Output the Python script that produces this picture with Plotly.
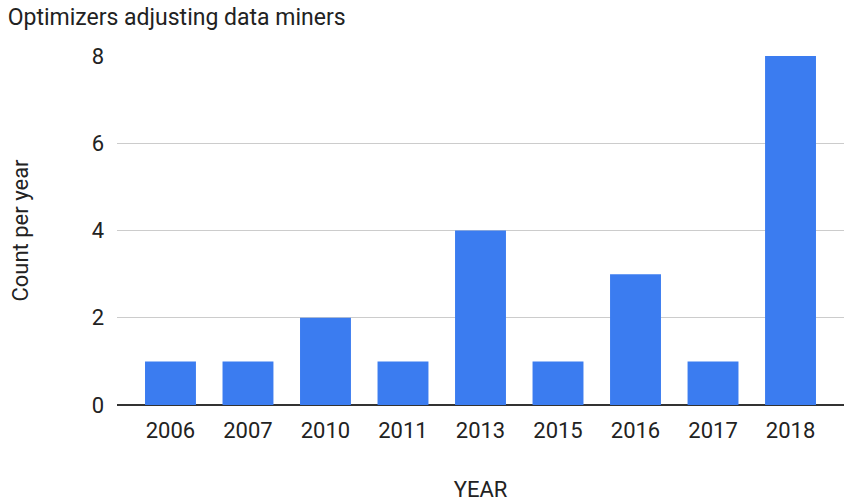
import plotly.graph_objects as go

years = ["2006", "2007", "2010", "2011", "2013", "2015", "2016", "2017", "2018"]
counts = [1, 1, 2, 1, 4, 1, 3, 1, 8]
y_ticks = [0, 2, 4, 6, 8]

fig = go.Figure(go.Bar(x=years, y=counts, marker_color="#3b7cf0", marker_line_width=0))
fig.update_layout(
    width=852, height=502,
    margin=dict(l=117, r=8, t=56, b=97),
    paper_bgcolor="white", plot_bgcolor="white",
    bargap=0.343,
    font=dict(family="Roboto", size=23, color="#222"),
    title=dict(text="Optimizers adjusting data miners", x=0.009, xanchor="left",
               y=0.967, yanchor="middle", font=dict(size=23, color="#222")),
    showlegend=False,
)
fig.update_xaxes(type="category", range=[-0.69, 8.69], showgrid=False, ticks="",
                 ticklabelstandoff=10, automargin=False,
                 tickfont=dict(size=22), title=dict(text="YEAR", font=dict(size=22), standoff=39))
fig.update_yaxes(range=[0, 8], tickvals=y_ticks, showgrid=True, gridcolor="#cccccc",
                 zeroline=True, zerolinecolor="#333333", zerolinewidth=1.5,
                 ticks="", ticklabelstandoff=12, tickfont=dict(size=22), automargin=False,
                 title=dict(text="Count per year", font=dict(size=22), standoff=56))
fig.write_html("out.html")
